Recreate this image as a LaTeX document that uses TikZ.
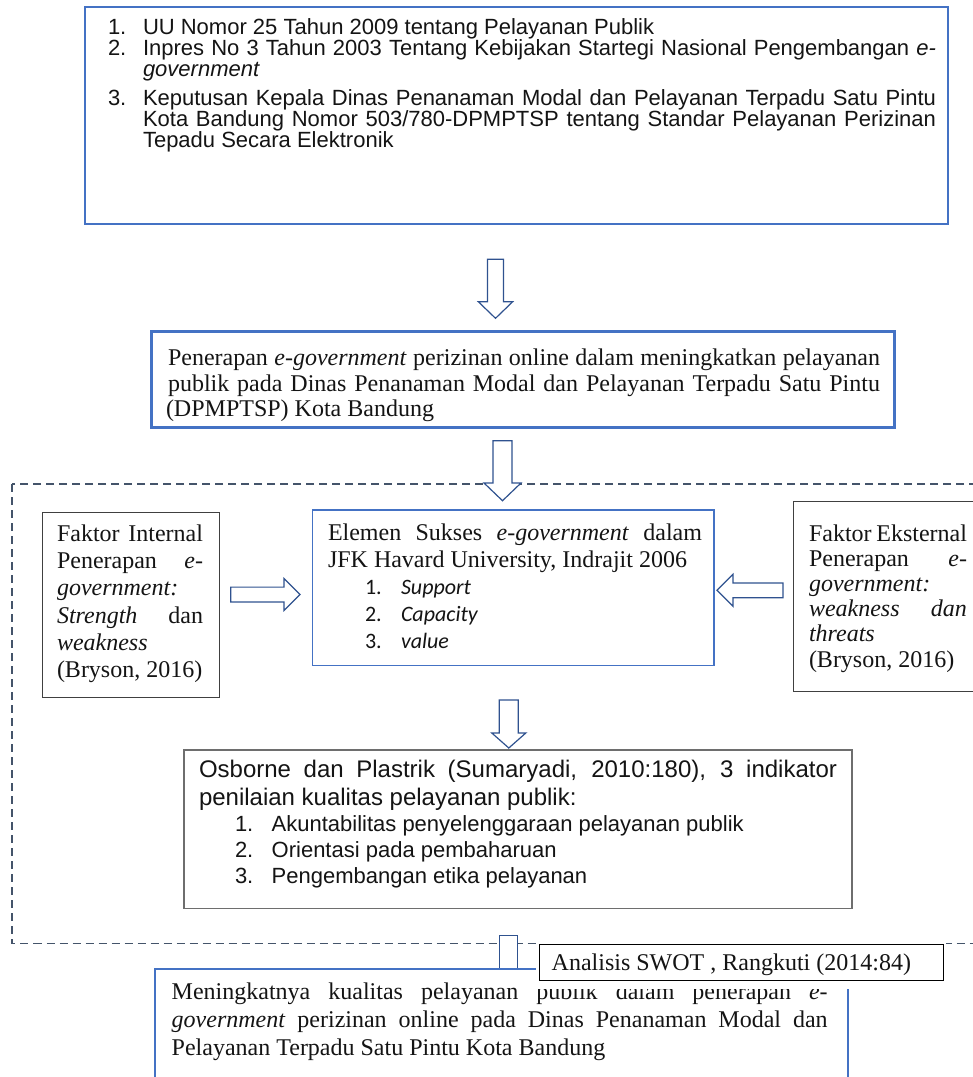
\documentclass[tikz,border=0pt]{standalone}
\usepackage{fontspec}
\setmainfont{Liberation Serif}
\newfontfamily\arialf{Liberation Sans}
\newfontfamily\calibf{Carlito}
\definecolor{boxblue}{RGB}{68,114,196}
\definecolor{arrblue}{RGB}{47,82,143}
\definecolor{dashc}{RGB}{68,84,106}
\definecolor{txtc}{RGB}{20,20,20}
\definecolor{darkb}{RGB}{64,64,64}
\definecolor{grayb}{RGB}{110,110,110}
\newcommand{\fTopBox}{\arialf\fontsize{22}{24}\selectfont}
\newcommand{\fSerif}{\fontsize{24}{26}\selectfont}
\newcommand{\fOsb}{\arialf\fontsize{24}{26}\selectfont}
\newcommand{\fOsbItem}{\arialf\fontsize{22}{24}\selectfont}
\newcommand{\fCal}{\calibf\fontsize{22}{24}\selectfont}
\newcommand{\jline}[2]{\makebox[#1pt][s]{#2}}
\newcommand{\blockdown}[6]{\draw[blockarrow] ({#1-#2},#4) -- ({#1+#2},#4) -- ({#1+#2},#5) -- ({#1+#3},#5) -- (#1,#6) -- ({#1-#3},#5) -- ({#1-#2},#5) -- cycle;}
\newcommand{\blockhor}[6]{\draw[blockarrow] (#4,{#1-#2}) -- (#5,{#1-#2}) -- (#5,{#1-#3}) -- (#6,#1) -- (#5,{#1+#3}) -- (#5,{#1+#2}) -- (#4,{#1+#2}) -- cycle;}
\begin{document}
\begin{tikzpicture}[x=1pt,y=-1pt,
  ln/.style={anchor=base west, inner sep=0pt, outer sep=0pt, text=txtc},
  tl/.style={ln, font=\fTopBox},
  sl/.style={ln, font=\fSerif},
  ol/.style={ln, font=\fOsb},
  oil/.style={ln, font=\fOsbItem},
  cl/.style={ln, font=\fCal},
  bluebox/.style={draw=boxblue, line width=1.5pt, fill=white, inner sep=0pt, outer sep=0pt, anchor=north west},
  graybox/.style={draw=darkb, line width=1pt, fill=white, inner sep=0pt, outer sep=0pt, anchor=north west},
  blockarrow/.style={draw=arrblue, line width=1.2pt, fill=white, line join=miter, miter limit=10},
]
\useasboundingbox (0,0) rectangle (973,1077);
\clip (0,0) rectangle (973,1077);

% dashed region
\draw[dashc, line width=1.4pt, dash pattern=on 8pt off 5pt] (12,484) rectangle (1010,943.5);

% top box
\node[bluebox, minimum width=863pt, minimum height=217pt] (topbox) at (85,7) {};
\node[tl] (t1n) at (108,34) {1.};
\node[tl] (t1) at (143,34) {UU Nomor 25 Tahun 2009 tentang Pelayanan Publik};
\node[tl] (t2n) at (108,55) {2.};
\node[tl] (t2a) at (143,55) {\jline{793}{Inpres No 3 Tahun 2003 Tentang Kebijakan Startegi Nasional Pengembangan \textit{e-}}};
\node[tl] (t2b) at (143,76) {\textit{government}};
\node[tl] (t3n) at (108,105) {3.};
\node[tl] (t3a) at (143,105) {\jline{793}{Keputusan Kepala Dinas Penanaman Modal dan Pelayanan Terpadu Satu Pintu}};
\node[tl] (t3b) at (143,126) {\jline{793}{Kota Bandung Nomor 503/780-DPMPTSP tentang Standar Pelayanan Perizinan}};
\node[tl] (t3c) at (143,147) {Tepadu Secara Elektronik};

% arrow 1
\blockdown{495.5}{8}{17.2}{259.3}{301.7}{318.3}

% box 2
\node[bluebox, line width=3pt, minimum width=743pt, minimum height=96pt] (penerapan) at (151.7,331.7) {};
\node[sl] (p1) at (168,365.5) {\jline{712}{Penerapan \textit{e-government} perizinan online dalam meningkatkan pelayanan}};
\node[sl] (p2) at (168,391) {\jline{712}{publik pada Dinas Penanaman Modal dan Pelayanan Terpadu Satu Pintu}};
\node[sl] (p3) at (166,416.5) {(DPMPTSP) Kota Bandung};

% arrow 2
\blockdown{502.5}{9.5}{18.5}{440.7}{483}{500.7}

% internal factor box
\node[graybox, minimum width=177pt, minimum height=185pt] (internal) at (42,512) {};
\node[sl] (i1) at (57,541) {\jline{146}{Faktor Internal}};
\node[sl] (i2) at (57,568) {\jline{146}{Penerapan \textit{e-}}};
\node[sl] (i3) at (57,595) {\textit{government:}};
\node[sl] (i4) at (57,623) {\jline{146}{\textit{Strength} dan}};
\node[sl] (i5) at (57,650) {\textit{weakness}};
\node[sl] (i6) at (57,677) {(Bryson, 2016)};

% elemen box
\node[bluebox, minimum width=401.3pt, minimum height=155.7pt] (elemen) at (312.7,510) {};
\node[sl] (e1) at (328,540) {\jline{374}{Elemen Sukses \textit{e-government} dalam}};
\node[sl] (e2) at (328,567) {JFK Havard University, Indrajit 2006};
\node[cl] (e3n) at (365,594) {1.};
\node[cl] (e3) at (401,594) {\textit{Support}};
\node[cl] (e4n) at (365,621) {2.};
\node[cl] (e4) at (401,621) {\textit{Capacity}};
\node[cl] (e5n) at (365,648) {3.};
\node[cl] (e5) at (401,648) {\textit{value}};

% external factor box
\node[graybox, minimum width=200pt, minimum height=190pt] (external) at (793,501) {};
\node[sl] (x1) at (809,541) {\jline{158}{Faktor Eksternal}};
\node[sl] (x2) at (809,566) {\jline{158}{Penerapan \textit{e-}}};
\node[sl] (x3) at (809,591) {\textit{government:}};
\node[sl] (x4) at (809,616) {\jline{158}{\textit{weakness dan}}};
\node[sl] (x5) at (809,641) {\textit{threats}};
\node[sl] (x6) at (809,667) {(Bryson, 2016)};

% side arrows
\blockhor{594.5}{7.4}{16}{230.7}{284}{300}
\blockhor{590.3}{7.4}{16}{783}{733}{717}

% arrow 3
\blockdown{508.8}{9.5}{17}{700}{733}{748}

% osborne box
\node[draw=grayb, line width=1.5pt, fill=white, inner sep=0pt, anchor=north west, minimum width=668pt, minimum height=158.7pt] (osborne) at (183,749) {};
\node[ol] (o1) at (199,777) {\jline{638}{Osborne dan Plastrik (Sumaryadi, 2010:180), 3 indikator}};
\node[ol] (o2) at (199,805) {penilaian kualitas pelayanan publik:};
\node[oil] (o3n) at (235,831.5) {1.};
\node[oil] (o3) at (271.7,831.5) {Akuntabilitas penyelenggaraan pelayanan publik};
\node[oil] (o4n) at (235,857) {2.};
\node[oil] (o4) at (271.7,857) {Orientasi pada pembaharuan};
\node[oil] (o5n) at (235,883) {3.};
\node[oil] (o5) at (271.7,883) {Pengembangan etika pelayanan};

% shaft of the last arrow
\draw[arrblue, line width=1.3pt, fill=white] (499.3,969) -- (499.3,935.7) -- (517.3,935.7) -- (517.3,969);

% result box
\node[bluebox, minimum width=693pt, minimum height=200pt] (result) at (155,969) {};
\node[sl] (r1) at (171.7,999) {\jline{656}{Meningkatnya kualitas pelayanan publik dalam penerapan \textit{e-}}};
\node[sl] (r2) at (171.7,1027) {\jline{656}{\textit{government} perizinan online pada Dinas Penanaman Modal dan}};
\node[sl] (r3) at (171.7,1055) {Pelayanan Terpadu Satu Pintu Kota Bandung};

% SWOT label
\fill[white] (536,941) rectangle (946,989);
\node[draw=black, line width=1.2pt, fill=white, inner sep=0pt, anchor=north west, minimum width=404pt, minimum height=36pt] (swot) at (539,944) {};
\node[sl] (swott) at (551.7,970) {Analisis SWOT , Rangkuti (2014:84)};
\end{tikzpicture}
\end{document}
